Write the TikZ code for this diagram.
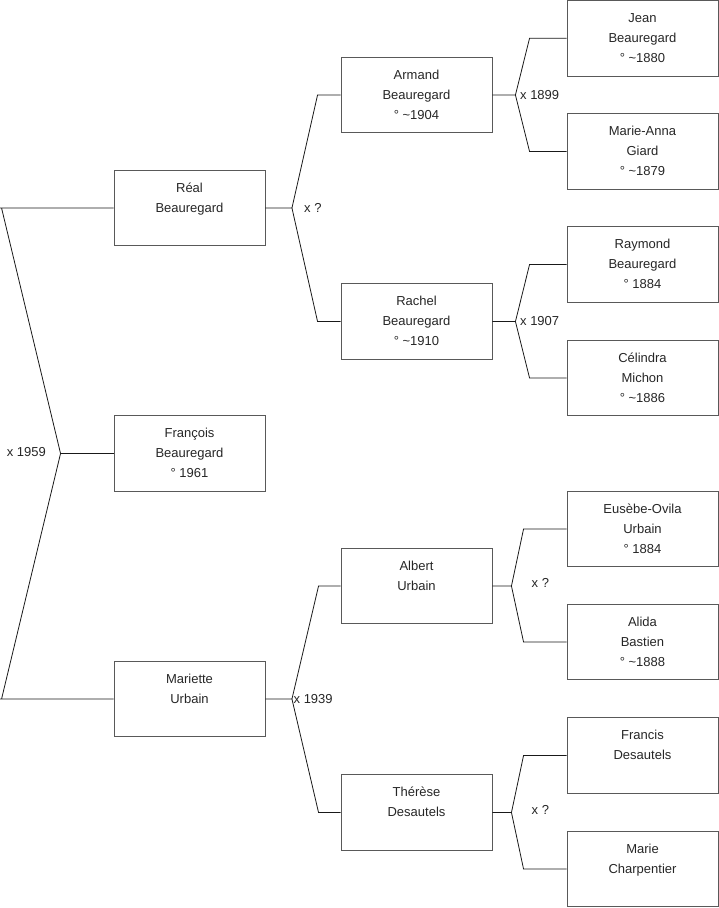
\documentclass[tikz,border=0pt]{standalone}
\usepackage{fontspec}
\setmainfont{Liberation Sans}
\newcommand\pl[1]{\strut #1}
\begin{document}
\begin{tikzpicture}[x=1pt,y=-1pt,
  person/.style={draw=black!65, line width=0.9pt, minimum width=151pt, minimum height=75.5pt,
    inner sep=0pt, align=center, font=\fontsize{13}{20}\selectfont, text=black!85},
  link/.style={line width=0.8pt, draw=black!90},
  mlabel/.style={font=\fontsize{13}{20}\selectfont, inner sep=0pt, text=black!85}]
\useasboundingbox (0,0) rectangle (719,908);
% level 1
\node[person] (real) at (189.5,208) {\pl{Réal}\\\pl{Beauregard}\\\pl{}};
\node[person] (francois) at (189.5,453.5) {\pl{François}\\\pl{Beauregard}\\\pl{° 1961}};
\node[person] (mariette) at (189.5,699) {\pl{Mariette}\\\pl{Urbain}\\\pl{}};
% level 2
\node[person] (armand) at (416.5,95) {\pl{Armand}\\\pl{Beauregard}\\\pl{° \textasciitilde1904}};
\node[person] (rachel) at (416.5,321.5) {\pl{Rachel}\\\pl{Beauregard}\\\pl{° \textasciitilde1910}};
\node[person] (albert) at (416.5,586) {\pl{Albert}\\\pl{Urbain}\\\pl{}};
\node[person] (therese) at (416.5,812.5) {\pl{Thérèse}\\\pl{Desautels}\\\pl{}};
% level 3
\node[person] (jean) at (642.5,38.2) {\pl{Jean}\\\pl{Beauregard}\\\pl{° \textasciitilde1880}};
\node[person] (marieanna) at (642.5,151.5) {\pl{Marie-Anna}\\\pl{Giard}\\\pl{° \textasciitilde1879}};
\node[person] (raymond) at (642.5,264.5) {\pl{Raymond}\\\pl{Beauregard}\\\pl{° 1884}};
\node[person] (celindra) at (642.5,378) {\pl{Célindra}\\\pl{Michon}\\\pl{° \textasciitilde1886}};
\node[person] (eusebe) at (642.5,529) {\pl{Eusèbe-Ovila}\\\pl{Urbain}\\\pl{° 1884}};
\node[person] (alida) at (642.5,642) {\pl{Alida}\\\pl{Bastien}\\\pl{° \textasciitilde1888}};
\node[person] (francis) at (642.5,755.5) {\pl{Francis}\\\pl{Desautels}\\\pl{}};
\node[person] (mariec) at (642.5,869) {\pl{Marie}\\\pl{Charpentier}\\\pl{}};
% junctions
\coordinate (j0) at ([xshift=-53]francois.west);
\coordinate (jR) at ([xshift=26.5]real.east);
\coordinate (jM) at ([xshift=26.5]mariette.east);
\coordinate (jA) at ([xshift=23]armand.east);
\coordinate (jB) at ([xshift=23]rachel.east);
\coordinate (jC) at ([xshift=19]albert.east);
\coordinate (jD) at ([xshift=19]therese.east);
% connectors
\draw[link] (francois.west) -- (j0);
\draw[link] (real.west) -- ([xshift=-114]real.west) -- ([xshift=-112]real.west) -- (j0) -- ([xshift=-112]mariette.west) -- ([xshift=-114]mariette.west) -- (mariette.west);
\draw[link] (real.east) -- (jR) -- ([xshift=-23]armand.west) -- (armand.west);
\draw[link] (jR) -- ([xshift=-23]rachel.west) -- (rachel.west);
\draw[link] (mariette.east) -- (jM) -- ([xshift=-22]albert.west) -- (albert.west);
\draw[link] (jM) -- ([xshift=-22]therese.west) -- (therese.west);
\draw[link] (armand.east) -- (jA) -- ([xshift=-37]jean.west) -- (jean.west);
\draw[link] (jA) -- ([xshift=-37]marieanna.west) -- (marieanna.west);
\draw[link] (rachel.east) -- (jB) -- ([xshift=-37]raymond.west) -- (raymond.west);
\draw[link] (jB) -- ([xshift=-37]celindra.west) -- (celindra.west);
\draw[link] (albert.east) -- (jC) -- ([xshift=-43]eusebe.west) -- (eusebe.west);
\draw[link] (jC) -- ([xshift=-43]alida.west) -- (alida.west);
\draw[link] (therese.east) -- (jD) -- ([xshift=-43]francis.west) -- (francis.west);
\draw[link] (jD) -- ([xshift=-43]mariec.west) -- (mariec.west);
% marriage labels
\node[mlabel, anchor=east] (m0) at ([xshift=-14.5,yshift=1]j0) {x 1959};
\node[mlabel, anchor=west] (mR) at ([xshift=12]jR) {x ?};
\node[mlabel, anchor=west] (mM) at ([xshift=1.5]jM) {x 1939};
\node[mlabel, anchor=west] (mA) at ([xshift=4.5]jA) {x 1899};
\node[mlabel, anchor=west] (mB) at ([xshift=4.5]jB) {x 1907};
\node[mlabel, anchor=west] (mC) at ([xshift=20,yshift=3]jC) {x ?};
\node[mlabel, anchor=west] (mD) at ([xshift=20,yshift=3]jD) {x ?};
\end{tikzpicture}
\end{document}
